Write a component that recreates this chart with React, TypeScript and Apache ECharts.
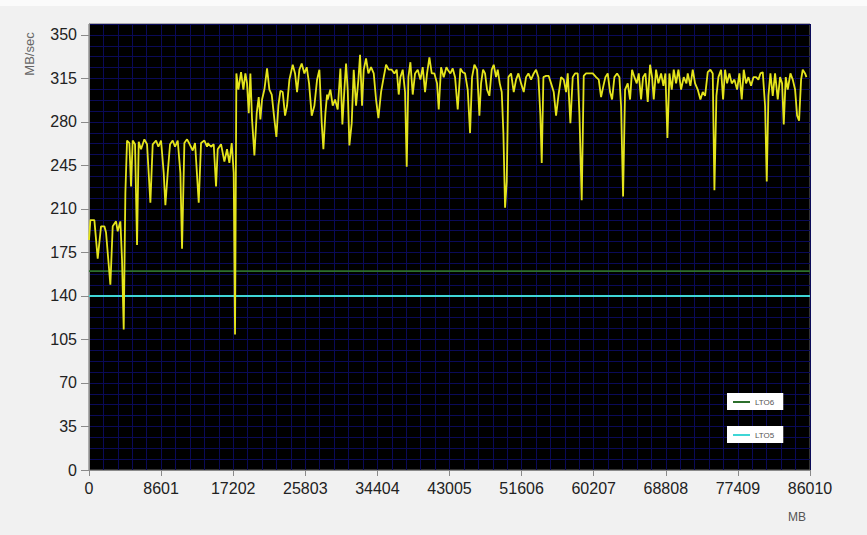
import React, { useEffect, useRef } from "react";
import * as echarts from "echarts";

// Position in the transfer (MB) and measured throughput (MB/sec)
const transferredMB = [
  0, 163, 640, 1038, 1436, 1834, 2032, 2549, 2828, 3225, 3424, 3742, 3941, 4140, 4339, 4538, 4816, 5015, 5214, 5492,
  5731, 5930, 6208, 6606, 6924, 7322, 7600, 7998, 8276, 8594, 8913, 9111, 9390, 9668, 9986, 10265, 10583, 10901, 11100,
  11378, 11696, 12015, 12373, 12651, 13089, 13367, 13765, 14083,
  14161, 14559, 14877, 15155, 15354, 15752, 16150, 16468, 16746, 17024, 17263, 17422, 17581, 17820, 18138, 18416, 18655,
  18854, 19053, 19252, 19451, 19729, 20007, 20246, 20445, 20644, 20922, 21240, 21518, 21797, 22115, 22354, 22592, 22831,
  23109, 23388, 23626, 23905, 24302, 24581, 24820, 25098, 25376, 25694, 25973, 26251, 26569, 26887, 27206, 27484, 27762,
  27961, 28200, 28399,
  28477, 28795, 29074, 29352, 29670, 29988, 30227, 30466, 30664, 30863, 31062, 31340, 31579, 31857, 32136, 32335, 32573,
  32772, 33051, 33329, 33647, 33965, 34244, 34522, 34840, 35158, 35437, 35755, 36113, 36431, 36709, 36948, 37147, 37425,
  37704, 37902, 38101, 38340, 38618, 38897, 39215, 39533, 39811, 40090, 40328, 40607, 40885, 41203, 41521, 41720, 41999,
  42317, 42635,
  42793, 43111, 43390, 43668, 43986, 44304, 44583, 44861, 45179, 45458, 45696, 45975, 46293, 46571, 46770, 47009, 47247,
  47486, 47764, 48043, 48281, 48560, 48759, 48997, 49236, 49434, 49633, 49832, 50031, 50349, 50667, 50946, 51224, 51542,
  51861, 52139, 52417, 52736, 53054, 53332, 53610, 53849, 54008, 54207, 54525, 54843, 55122, 55440, 55718, 55997, 56315,
  56633, 56911,
  57109, 57427, 57706, 57984, 58302, 58501, 58779, 59018, 59296, 59694, 60092, 60489, 60808, 61086, 61364, 61603, 61881,
  62160, 62398, 62677, 62995, 63273, 63472, 63711, 63949, 64268, 64546, 64785, 65063, 65341, 65580, 65858, 66097, 66375,
  66654, 66932, 67171, 67370, 67648, 67926, 68245, 68523, 68762, 69000, 69239, 69517, 69756, 70034, 70313, 70631, 70949,
  71267,
  71425, 71743, 72022, 72300, 72618, 72936, 73215, 73493, 73811, 74129, 74408, 74607, 74845, 75084, 75402, 75641, 75879,
  76118, 76396, 76675, 76993, 77311, 77589, 77868, 78106, 78385, 78663, 78981, 79260, 79578, 79856, 80095, 80373, 80652,
  80850, 81049, 81288, 81566, 81844, 82163, 82441, 82680, 82879, 83117, 83356, 83674, 83953, 84231, 84470, 84708, 84947,
  85146, 85424, 85583,
];

const throughput = [
  185, 201, 201, 170, 196, 196, 191, 149, 196, 200, 192, 200, 169, 113, 223, 265, 263, 228, 265, 262,
  181, 264, 258, 266, 262, 215, 262, 265, 260, 265, 239, 213, 239, 262, 265, 260, 265, 239, 178,
  263, 266, 262, 257, 263, 215, 263, 265, 260,
  263, 260, 262, 228, 258, 262, 248, 258, 247, 263, 239, 109, 319, 306, 320, 306, 319,
  311, 287, 319, 282, 253, 287, 300, 282, 298, 306, 323, 306, 302, 282, 268, 293, 305,
  304, 285, 293, 314, 326, 319, 304, 322, 327, 319, 324, 311, 285, 293, 314, 322, 279,
  258, 287, 302,
  298, 306, 293, 298, 290, 323, 278, 306, 327, 306, 261, 279, 322, 293, 314, 334, 293,
  322, 331, 319, 324, 319, 298, 283, 304, 316, 326, 322, 322, 319, 322, 302, 316, 322,
  304, 244, 316, 328, 302, 319, 322, 314, 324, 304, 319, 332, 319, 319, 311, 290, 324,
  316, 324,
  322, 319, 323, 316, 290, 323, 320, 319, 306, 271, 316, 326, 322, 285, 311, 322, 319,
  306, 301, 322, 326, 316, 322, 311, 304, 271, 211, 232, 316, 319, 304, 314, 319, 311,
  304, 316, 319, 314, 319, 322, 316, 285, 247, 316, 317, 317, 311, 304, 285, 301, 316,
  314, 304,
  319, 279, 316, 319, 319, 287, 217, 317, 319, 319, 319, 316, 314, 300, 309, 316, 319,
  304, 298, 316, 319, 316, 293, 220, 306, 311, 298, 322, 316, 311, 319, 298, 316, 319,
  296, 326, 316, 298, 322, 311, 319, 309, 319, 267, 319, 306, 322, 311, 322, 306, 316,
  311,
  319, 309, 322, 311, 306, 298, 304, 301, 320, 322, 319, 225, 301, 316, 322, 298, 322,
  311, 319, 311, 314, 306, 319, 298, 322, 311, 316, 309, 316, 316, 314, 319, 320, 293,
  232, 301, 319, 301, 319, 298, 316, 311, 278, 316, 306, 319, 314, 306, 285, 281, 314,
  322, 319, 316,
];

const lto6Rate = 160;
const lto5Rate = 140;
const xRange = [0, 86010];
const xStep = 8601;
const yTickValues = [0, 35, 70, 105, 140, 175, 210, 245, 280, 315, 350];
const yMax = 358.75;
const yMinorStep = 8.75;

export default function App() {
  const ref = useRef<HTMLDivElement>(null);

  useEffect(() => {
    document.body.style.margin = "0";
    const chart = echarts.init(ref.current!, null, { renderer: "svg" });
    const font = "'Liberation Sans', Arial, sans-serif";
    const gridColor = "#0a0a58";
    const axisGrey = "#8a8a8a";

    const mainData = transferredMB.map((mb, i) => [mb, throughput[i]]);

    chart.setOption({
      animation: false,
      backgroundColor: "#f1f1f1",
      grid: {
        left: 89,
        right: 57,
        top: 24,
        bottom: 65,
        show: true,
        backgroundColor: "#000000",
        borderColor: "#666",
        borderWidth: 1,
      },
      xAxis: [
        {
          type: "value",
          min: xRange[0],
          max: xRange[1],
          interval: xStep,
          axisLine: { show: true, onZero: false, lineStyle: { color: axisGrey } },
          axisTick: { show: true, length: 6, lineStyle: { color: axisGrey } },
          axisLabel: {
            color: "#222",
            fontSize: 16,
            fontFamily: font,
            margin: 10,
            formatter: (v: number) => String(Math.round(v)),
          },
          splitLine: { show: true, lineStyle: { color: gridColor, width: 1 } },
          minorTick: { show: false, splitNumber: 5 },
          minorSplitLine: { show: true, lineStyle: { color: gridColor, width: 1 } },
        },
      ],
      yAxis: [
        {
          type: "value",
          min: 0,
          max: yMax,
          interval: 35,
          axisLine: { show: true, onZero: false, lineStyle: { color: axisGrey } },
          axisTick: { show: true, length: 8, lineStyle: { color: axisGrey }, customValues: yTickValues },
          axisLabel: {
            color: "#222",
            fontSize: 16,
            fontFamily: font,
            margin: 12,
            customValues: yTickValues,
            formatter: (v: number) => String(Math.round(v)),
          },
          splitLine: { show: false },
        },
        {
          type: "value",
          min: 0,
          max: yMax,
          interval: yMinorStep,
          position: "left",
          axisLine: { show: false },
          axisTick: { show: false },
          axisLabel: { show: false },
          splitLine: { show: true, lineStyle: { color: gridColor, width: 1 } },
        },
      ],
      legend: [
        {
          data: [{ name: "LTO6", icon: "rect" }],
          left: 727,
          top: 393,
          backgroundColor: "#ffffff",
          padding: [5, 9, 4, 6],
          itemWidth: 17,
          itemHeight: 2,
          selectedMode: false,
          textStyle: { fontSize: 8, color: "#555", fontFamily: font },
        },
        {
          data: [{ name: "LTO5", icon: "rect" }],
          left: 727,
          top: 426,
          backgroundColor: "#ffffff",
          padding: [5, 9, 4, 6],
          itemWidth: 17,
          itemHeight: 2,
          selectedMode: false,
          textStyle: { fontSize: 8, color: "#555", fontFamily: font },
        },
      ],
      graphic: [
        { type: "rect", left: 0, top: 0, shape: { width: 867, height: 6 }, style: { fill: "#fbfbfb" }, z: -1 },
        {
          type: "text",
          x: 29,
          y: 54,
          rotation: Math.PI / 2,
          style: { text: "MB/sec", font: `13px ${font}`, fill: "#666", align: "center", verticalAlign: "middle" },
        },
        {
          type: "text",
          x: 797,
          y: 517,
          style: { text: "MB", font: `12px ${font}`, fill: "#555", align: "center", verticalAlign: "middle" },
        },
      ],
      series: [
        {
          name: "Throughput",
          type: "line",
          data: mainData,
          showSymbol: false,
          symbol: "none",
          color: "#e4e41c",
          lineStyle: { color: "#e4e41c", width: 1.8 },
          z: 5,
        },
        {
          name: "LTO6",
          type: "line",
          data: [[xRange[0], lto6Rate], [xRange[1], lto6Rate]],
          showSymbol: false,
          symbol: "none",
          color: "#2c6f2c",
          lineStyle: { color: "#2c6f2c", width: 1.6 },
          z: 3,
        },
        {
          name: "LTO5",
          type: "line",
          data: [[xRange[0], lto5Rate], [xRange[1], lto5Rate]],
          showSymbol: false,
          symbol: "none",
          color: "#3fd6d6",
          lineStyle: { color: "#3fd6d6", width: 2 },
          z: 3,
        },
      ],
    });

    return () => chart.dispose();
  }, []);

  return <div ref={ref} style={{ width: 867, height: 535 }} />;
}
